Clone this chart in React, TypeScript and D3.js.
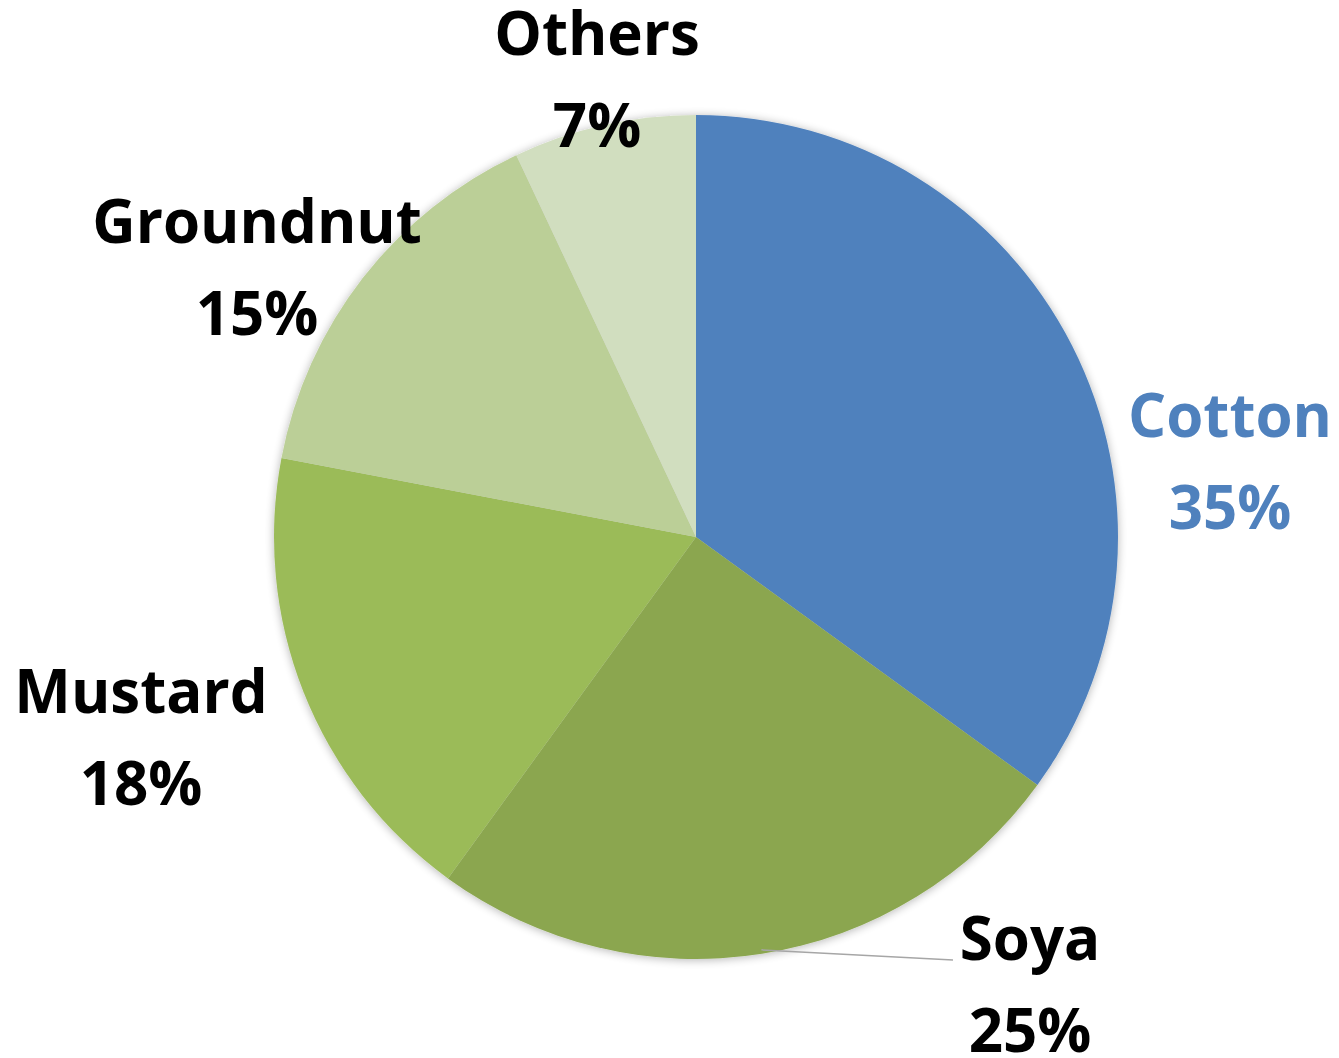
import { useEffect, useMemo } from "react";
import * as d3 from "d3";

// crop shares, clockwise from 12 o'clock
const crops = ["Cotton", "Soya", "Mustard", "Groundnut", "Others"];
const shares = [35, 25, 18, 15, 7];
const sliceColors = ["#4F81BD", "#8BA650", "#9BBB59", "#BBCF97", "#D1DEBF"];
const labelColors = ["#4F81BD", "#000", "#000", "#000", "#000"];

const W = 1339;
const H = 1058;
const cx = 696;
const cy = 537;
const R = 422;

// label centre (x) and first baseline (y), relative to the pie centre
const labelPos: Record<string, [number, number]> = {
  Cotton: [534, -100],
  Soya: [334, 423],
  Mustard: [-555, 176],
  Groundnut: [-439, -294],
  Others: [-99, -482],
};

export default function App() {
  useEffect(() => {
    document.body.style.margin = "0";
  }, []);

  const arcs = useMemo(
    () => d3.pie<number>().sort(null).value((d) => d)(shares),
    []
  );
  const arc = d3.arc<d3.PieArcDatum<number>>().innerRadius(0).outerRadius(R);

  // leader line for Soya from the pie edge (mid-angle) to its label
  const soyaArc = arcs[1];
  const leadAngle = (soyaArc.startAngle + soyaArc.endAngle) / 2;
  const lx = Math.sin(leadAngle) * (R - 4);
  const ly = -Math.cos(leadAngle) * (R - 4);

  return (
    <svg width={W} height={H} style={{ display: "block", background: "#fff" }}>
      <defs>
        <filter id="shadow" x="-10%" y="-10%" width="120%" height="120%">
          <feGaussianBlur in="SourceAlpha" stdDeviation="5" />
          <feOffset dx="0" dy="1" result="b" />
          <feComponentTransfer>
            <feFuncA type="linear" slope="0.3" />
          </feComponentTransfer>
          <feMerge>
            <feMergeNode />
            <feMergeNode in="SourceGraphic" />
          </feMerge>
        </filter>
      </defs>
      <g transform={`translate(${cx},${cy})`}>
        <g filter="url(#shadow)">
          {arcs.map((a, i) => (
            <path key={crops[i]} d={arc(a) || ""} fill={sliceColors[i]} />
          ))}
        </g>
        <path
          d={`M${lx},${ly}L${labelPos.Soya[0] - 77},${labelPos.Soya[1]}`}
          stroke="#A6A6A6"
          strokeWidth={1.5}
          fill="none"
        />
        {crops.map((c, i) => (
          <text
            key={c}
            x={labelPos[c][0]}
            y={labelPos[c][1]}
            textAnchor="middle"
            fill={labelColors[i]}
            fontFamily="'Open Sans', 'DejaVu Sans', sans-serif"
            fontWeight="bold"
            fontSize={60}
          >
            <tspan x={labelPos[c][0]}>{c}</tspan>
            <tspan x={labelPos[c][0]} dy={92}>
              {shares[i]}%
            </tspan>
          </text>
        ))}
      </g>
    </svg>
  );
}
